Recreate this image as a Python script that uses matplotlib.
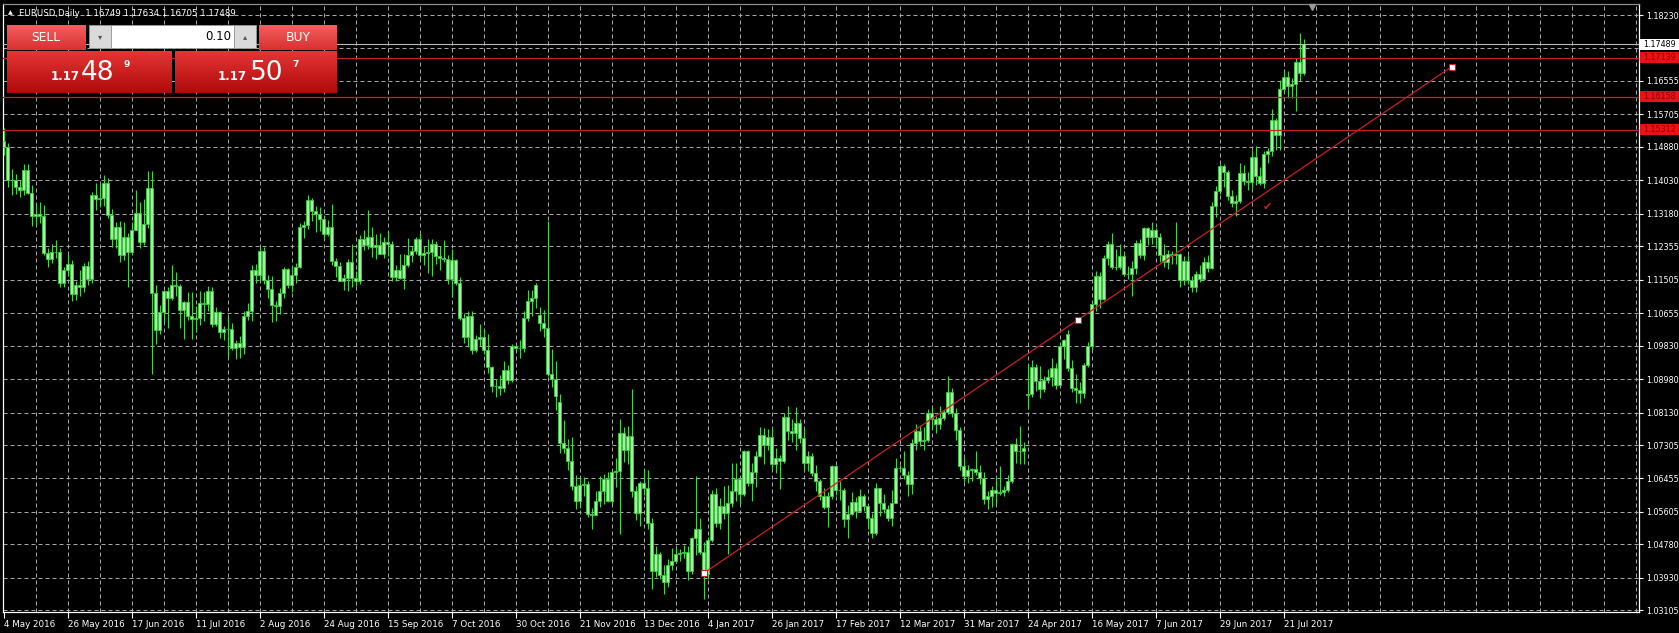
import numpy as np
import matplotlib
matplotlib.use('Agg')
import matplotlib.pyplot as plt
import matplotlib.colors as mcolors
import matplotlib.transforms as mtransforms
from matplotlib.patches import Rectangle

# EURUSD daily bars, 4 May 2016 .. 28 Jul 2017 (one entry per bar)
opens = [
    1.1502, 1.1488, 1.1404, 1.1403, 1.1385, 1.1378, 1.1428, 1.1372, 1.1312, 1.1317,
    1.1313, 1.1219, 1.1202, 1.1221, 1.1222, 1.1141, 1.1175, 1.1191, 1.1114, 1.1137,
    1.1131, 1.1185, 1.1152, 1.1366, 1.1355, 1.1357, 1.1395, 1.1314, 1.1253, 1.1285,
    1.1214, 1.1259, 1.1222, 1.1277, 1.1319, 1.1245, 1.1293, 1.1383, 1.1116, 1.1023,
    1.1068, 1.1122, 1.1103, 1.1136, 1.1134, 1.1073, 1.1093, 1.1058, 1.1051, 1.1054,
    1.1092, 1.1090, 1.1121, 1.1039, 1.1069, 1.1017, 1.1026, 1.1025, 1.0977, 1.0990,
    1.0980, 1.1058, 1.1072, 1.1175, 1.1163, 1.1223, 1.1150, 1.1128, 1.1085, 1.1083,
    1.1116, 1.1177, 1.1137, 1.1163, 1.1182, 1.1284, 1.1290, 1.1354, 1.1324, 1.1318,
    1.1305, 1.1267, 1.1285, 1.1198, 1.1186, 1.1148, 1.1155, 1.1196, 1.1156, 1.1147,
    1.1255, 1.1239, 1.1260, 1.1233, 1.1239, 1.1217, 1.1245, 1.1241, 1.1157, 1.1174,
    1.1154, 1.1188, 1.1213, 1.1224, 1.1253, 1.1214, 1.1219, 1.1222, 1.1240, 1.1211,
    1.1205, 1.1202, 1.1152, 1.1200, 1.1142, 1.1054, 1.1004, 1.1058, 1.0971, 1.1000,
    1.1004, 1.0973, 1.0928, 1.0881, 1.0880, 1.0875, 1.0921, 1.0896, 1.0983, 1.0978,
    1.0977, 1.1054, 1.1096, 1.1105, 1.1060, 1.1040, 1.1028, 1.0912, 1.0897, 1.0840,
    1.0735, 1.0723, 1.0690, 1.0626, 1.0589, 1.0628, 1.0631, 1.0556, 1.0553, 1.0588,
    1.0613, 1.0645, 1.0588, 1.0663, 1.0665, 1.0762, 1.0717, 1.0754, 1.0614, 1.0558,
    1.0635, 1.0620, 1.0532, 1.0410, 1.0453, 1.0401, 1.0383, 1.0425, 1.0437, 1.0454,
    1.0456, 1.0458, 1.0411, 1.0493, 1.0517, 1.0458, 1.0404, 1.0488, 1.0605, 1.0532,
    1.0575, 1.0557, 1.0583, 1.0613, 1.0643, 1.0606, 1.0714, 1.0633, 1.0661, 1.0702,
    1.0757, 1.0731, 1.0750, 1.0681, 1.0698, 1.0691, 1.0801, 1.0765, 1.0761, 1.0787,
    1.0749, 1.0685, 1.0703, 1.0659, 1.0640, 1.0601, 1.0574, 1.0602, 1.0676, 1.0616,
    1.0616, 1.0542, 1.0556, 1.0586, 1.0563, 1.0601, 1.0575, 1.0545, 1.0506, 1.0620,
    1.0584, 1.0567, 1.0544, 1.0582, 1.0671, 1.0672, 1.0654, 1.0631, 1.0735, 1.0765,
    1.0740, 1.0742, 1.0811, 1.0796, 1.0784, 1.0799, 1.0814, 1.0866, 1.0813, 1.0768,
    1.0676, 1.0652, 1.0667, 1.0670, 1.0663, 1.0646, 1.0593, 1.0600, 1.0615, 1.0609,
    1.0612, 1.0615, 1.0640, 1.0732, 1.0715, 1.0716, 1.0858, 1.0860, 1.0929, 1.0892,
    1.0872, 1.0895, 1.0903, 1.0927, 1.0883, 1.0981, 1.1012, 1.0927, 1.0875, 1.0870,
    1.0862, 1.0933, 1.0981, 1.1090, 1.1160, 1.1101, 1.1206, 1.1240, 1.1184, 1.1183,
    1.1211, 1.1164, 1.1165, 1.1180, 1.1244, 1.1213, 1.1282, 1.1259, 1.1276, 1.1259,
    1.1213, 1.1196, 1.1215, 1.1212, 1.1215, 1.1150, 1.1198, 1.1149, 1.1131, 1.1166,
    1.1151, 1.1196, 1.1181, 1.1337, 1.1375, 1.1440, 1.1425, 1.1362, 1.1346, 1.1350,
    1.1422, 1.1401, 1.1399, 1.1463, 1.1413, 1.1397, 1.1470, 1.1477, 1.1556, 1.1517,
    1.1635, 1.1665, 1.1643, 1.1647, 1.1704, 1.1675,
]
highs = [
    1.1537, 1.1498, 1.1432, 1.1418, 1.1404, 1.1445, 1.1445, 1.1392, 1.1345, 1.1349,
    1.1341, 1.1231, 1.1240, 1.1252, 1.1230, 1.1183, 1.1216, 1.1201, 1.1146, 1.1174,
    1.1194, 1.1198, 1.1374, 1.1395, 1.1394, 1.1416, 1.1408, 1.1330, 1.1298, 1.1299,
    1.1298, 1.1268, 1.1298, 1.1379, 1.1347, 1.1356, 1.1427, 1.1427, 1.1136, 1.1087,
    1.1124, 1.1131, 1.1187, 1.1169, 1.1139, 1.1097, 1.1119, 1.1120, 1.1083, 1.1121,
    1.1120, 1.1135, 1.1132, 1.1082, 1.1072, 1.1034, 1.1059, 1.1040, 1.0998, 1.1008,
    1.1070, 1.1091, 1.1187, 1.1190, 1.1233, 1.1234, 1.1162, 1.1161, 1.1096, 1.1130,
    1.1184, 1.1180, 1.1185, 1.1192, 1.1294, 1.1300, 1.1366, 1.1358, 1.1338, 1.1335,
    1.1315, 1.1301, 1.1342, 1.1205, 1.1196, 1.1166, 1.1204, 1.1240, 1.1172, 1.1265,
    1.1277, 1.1327, 1.1285, 1.1267, 1.1270, 1.1259, 1.1274, 1.1249, 1.1188, 1.1215,
    1.1217, 1.1257, 1.1236, 1.1259, 1.1268, 1.1236, 1.1255, 1.1255, 1.1249, 1.1236,
    1.1251, 1.1212, 1.1228, 1.1202, 1.1158, 1.1066, 1.1070, 1.1071, 1.1009, 1.1039,
    1.1024, 1.1013, 1.0931, 1.0899, 1.0909, 1.0945, 1.0935, 1.0987, 1.0987, 1.0997,
    1.1070, 1.1124, 1.1124, 1.1143, 1.1080, 1.1073, 1.1300, 1.0974, 1.0944, 1.0860,
    1.0794, 1.0745, 1.0752, 1.0655, 1.0646, 1.0650, 1.0640, 1.0570, 1.0614, 1.0651,
    1.0658, 1.0662, 1.0670, 1.0697, 1.0796, 1.0775, 1.0780, 1.0874, 1.0626, 1.0640,
    1.0670, 1.0668, 1.0545, 1.0473, 1.0458, 1.0425, 1.0442, 1.0468, 1.0468, 1.0465,
    1.0476, 1.0475, 1.0498, 1.0653, 1.0546, 1.0485, 1.0497, 1.0615, 1.0622, 1.0596,
    1.0626, 1.0628, 1.0685, 1.0685, 1.0645, 1.0719, 1.0719, 1.0686, 1.0714, 1.0775,
    1.0773, 1.0772, 1.0777, 1.0724, 1.0706, 1.0811, 1.0829, 1.0797, 1.0827, 1.0797,
    1.0774, 1.0716, 1.0711, 1.0680, 1.0644, 1.0620, 1.0610, 1.0679, 1.0680, 1.0639,
    1.0620, 1.0579, 1.0610, 1.0598, 1.0619, 1.0607, 1.0578, 1.0559, 1.0634, 1.0622,
    1.0605, 1.0579, 1.0616, 1.0698, 1.0680, 1.0714, 1.0665, 1.0745, 1.0783, 1.0782,
    1.0775, 1.0823, 1.0826, 1.0805, 1.0829, 1.0820, 1.0906, 1.0875, 1.0825, 1.0776,
    1.0699, 1.0680, 1.0672, 1.0715, 1.0680, 1.0661, 1.0613, 1.0627, 1.0651, 1.0677,
    1.0627, 1.0654, 1.0736, 1.0749, 1.0778, 1.0738, 1.0937, 1.0947, 1.0936, 1.0932,
    1.0906, 1.0923, 1.0951, 1.0940, 1.0987, 1.1000, 1.1023, 1.0946, 1.0911, 1.0890,
    1.0939, 1.0991, 1.1095, 1.1172, 1.1169, 1.1213, 1.1249, 1.1268, 1.1228, 1.1240,
    1.1218, 1.1185, 1.1199, 1.1251, 1.1255, 1.1285, 1.1285, 1.1296, 1.1282, 1.1268,
    1.1240, 1.1226, 1.1223, 1.1296, 1.1218, 1.1210, 1.1212, 1.1161, 1.1173, 1.1188,
    1.1208, 1.1213, 1.1348, 1.1389, 1.1445, 1.1445, 1.1428, 1.1378, 1.1365, 1.1446,
    1.1443, 1.1424, 1.1480, 1.1490, 1.1437, 1.1478, 1.1484, 1.1583, 1.1561, 1.1658,
    1.1683, 1.1680, 1.1662, 1.1713, 1.1777, 1.1763,
]
lows = [
    1.1468, 1.1387, 1.1365, 1.1367, 1.1361, 1.1365, 1.1369, 1.1287, 1.1289, 1.1295,
    1.1213, 1.1182, 1.1194, 1.1205, 1.1131, 1.1132, 1.1160, 1.1096, 1.1099, 1.1110,
    1.1118, 1.1136, 1.1142, 1.1328, 1.1336, 1.1339, 1.1306, 1.1233, 1.1232, 1.1196,
    1.1200, 1.1131, 1.1216, 1.1276, 1.1232, 1.1238, 1.1282, 1.0912, 1.0988, 1.1012,
    1.1043, 1.1028, 1.1100, 1.1110, 1.1029, 1.1001, 1.1048, 1.0999, 1.1017, 1.1035,
    1.1045, 1.1071, 1.1030, 1.1032, 1.1003, 1.0998, 1.0953, 1.0971, 1.0950, 1.0951,
    1.0962, 1.1048, 1.1046, 1.1141, 1.1147, 1.1139, 1.1105, 1.1043, 1.1046, 1.1063,
    1.1105, 1.1130, 1.1120, 1.1142, 1.1179, 1.1257, 1.1279, 1.1300, 1.1271, 1.1275,
    1.1253, 1.1261, 1.1187, 1.1157, 1.1146, 1.1124, 1.1123, 1.1133, 1.1134, 1.1140,
    1.1227, 1.1228, 1.1208, 1.1203, 1.1216, 1.1205, 1.1210, 1.1148, 1.1148, 1.1153,
    1.1128, 1.1183, 1.1195, 1.1215, 1.1202, 1.1189, 1.1168, 1.1161, 1.1190, 1.1176,
    1.1195, 1.1140, 1.1106, 1.1136, 1.1048, 1.0990, 1.0980, 1.0961, 1.0967, 1.0983,
    1.0962, 1.0914, 1.0865, 1.0852, 1.0858, 1.0865, 1.0885, 1.0891, 1.0970, 1.0951,
    1.0968, 1.1046, 1.1058, 1.1079, 1.1021, 1.1004, 1.0906, 1.0879, 1.0819, 1.0711,
    1.0711, 1.0666, 1.0616, 1.0569, 1.0570, 1.0600, 1.0547, 1.0518, 1.0552, 1.0574,
    1.0581, 1.0585, 1.0580, 1.0623, 1.0505, 1.0688, 1.0682, 1.0598, 1.0541, 1.0525,
    1.0604, 1.0517, 1.0365, 1.0394, 1.0390, 1.0352, 1.0370, 1.0412, 1.0430, 1.0436,
    1.0444, 1.0388, 1.0404, 1.0452, 1.0454, 1.0340, 1.0389, 1.0484, 1.0522, 1.0516,
    1.0543, 1.0453, 1.0572, 1.0588, 1.0581, 1.0601, 1.0626, 1.0589, 1.0625, 1.0700,
    1.0681, 1.0718, 1.0670, 1.0660, 1.0619, 1.0684, 1.0744, 1.0739, 1.0717, 1.0736,
    1.0668, 1.0664, 1.0652, 1.0613, 1.0591, 1.0569, 1.0521, 1.0593, 1.0603, 1.0591,
    1.0522, 1.0494, 1.0553, 1.0545, 1.0560, 1.0563, 1.0516, 1.0495, 1.0503, 1.0550,
    1.0557, 1.0537, 1.0525, 1.0582, 1.0665, 1.0645, 1.0601, 1.0607, 1.0719, 1.0727,
    1.0718, 1.0738, 1.0771, 1.0760, 1.0772, 1.0795, 1.0808, 1.0802, 1.0742, 1.0667,
    1.0636, 1.0634, 1.0638, 1.0655, 1.0631, 1.0581, 1.0569, 1.0572, 1.0581, 1.0604,
    1.0600, 1.0610, 1.0635, 1.0685, 1.0681, 1.0683, 1.0822, 1.0853, 1.0868, 1.0851,
    1.0864, 1.0889, 1.0880, 1.0873, 1.0883, 1.0950, 1.0919, 1.0864, 1.0838, 1.0838,
    1.0851, 1.0929, 1.0971, 1.1072, 1.1078, 1.1099, 1.1188, 1.1177, 1.1174, 1.1177,
    1.1161, 1.1153, 1.1110, 1.1166, 1.1206, 1.1201, 1.1239, 1.1241, 1.1232, 1.1196,
    1.1182, 1.1177, 1.1191, 1.1190, 1.1131, 1.1138, 1.1140, 1.1118, 1.1120, 1.1145,
    1.1149, 1.1171, 1.1178, 1.1311, 1.1369, 1.1385, 1.1352, 1.1334, 1.1312, 1.1346,
    1.1392, 1.1379, 1.1383, 1.1392, 1.1391, 1.1384, 1.1448, 1.1466, 1.1479, 1.1479,
    1.1627, 1.1612, 1.1612, 1.1580, 1.1655, 1.1671,
]
closes = [
    1.1488, 1.1404, 1.1403, 1.1385, 1.1378, 1.1428, 1.1372, 1.1312, 1.1317, 1.1313,
    1.1219, 1.1202, 1.1221, 1.1222, 1.1141, 1.1175, 1.1191, 1.1114, 1.1137, 1.1131,
    1.1185, 1.1152, 1.1366, 1.1355, 1.1357, 1.1395, 1.1314, 1.1253, 1.1285, 1.1214,
    1.1259, 1.1222, 1.1277, 1.1319, 1.1245, 1.1293, 1.1383, 1.1116, 1.1023, 1.1068,
    1.1122, 1.1103, 1.1136, 1.1134, 1.1073, 1.1093, 1.1058, 1.1051, 1.1054, 1.1092,
    1.1090, 1.1121, 1.1039, 1.1069, 1.1017, 1.1026, 1.1025, 1.0977, 1.0990, 1.0980,
    1.1058, 1.1072, 1.1175, 1.1163, 1.1223, 1.1150, 1.1128, 1.1085, 1.1083, 1.1116,
    1.1177, 1.1137, 1.1163, 1.1182, 1.1284, 1.1290, 1.1354, 1.1324, 1.1318, 1.1305,
    1.1267, 1.1285, 1.1198, 1.1186, 1.1148, 1.1155, 1.1196, 1.1156, 1.1147, 1.1255,
    1.1239, 1.1260, 1.1233, 1.1239, 1.1217, 1.1245, 1.1241, 1.1157, 1.1174, 1.1154,
    1.1188, 1.1213, 1.1224, 1.1253, 1.1214, 1.1219, 1.1222, 1.1240, 1.1211, 1.1205,
    1.1202, 1.1152, 1.1200, 1.1142, 1.1054, 1.1004, 1.1058, 1.0971, 1.1000, 1.1004,
    1.0973, 1.0928, 1.0881, 1.0880, 1.0875, 1.0921, 1.0896, 1.0983, 1.0978, 1.0977,
    1.1054, 1.1096, 1.1105, 1.1137, 1.1040, 1.1028, 1.0912, 1.0897, 1.0855, 1.0735,
    1.0723, 1.0690, 1.0626, 1.0589, 1.0628, 1.0631, 1.0556, 1.0553, 1.0588, 1.0613,
    1.0645, 1.0588, 1.0663, 1.0665, 1.0762, 1.0717, 1.0754, 1.0614, 1.0558, 1.0635,
    1.0620, 1.0532, 1.0410, 1.0453, 1.0401, 1.0383, 1.0425, 1.0437, 1.0454, 1.0456,
    1.0458, 1.0411, 1.0493, 1.0517, 1.0458, 1.0404, 1.0488, 1.0605, 1.0532, 1.0575,
    1.0557, 1.0583, 1.0613, 1.0643, 1.0606, 1.0714, 1.0633, 1.0661, 1.0702, 1.0757,
    1.0731, 1.0750, 1.0681, 1.0698, 1.0691, 1.0801, 1.0765, 1.0761, 1.0787, 1.0749,
    1.0685, 1.0703, 1.0659, 1.0640, 1.0601, 1.0574, 1.0602, 1.0676, 1.0616, 1.0616,
    1.0542, 1.0556, 1.0586, 1.0563, 1.0601, 1.0575, 1.0545, 1.0506, 1.0620, 1.0584,
    1.0567, 1.0544, 1.0582, 1.0671, 1.0672, 1.0654, 1.0631, 1.0735, 1.0765, 1.0740,
    1.0742, 1.0811, 1.0796, 1.0784, 1.0799, 1.0814, 1.0866, 1.0813, 1.0768, 1.0676,
    1.0652, 1.0667, 1.0670, 1.0663, 1.0646, 1.0593, 1.0600, 1.0615, 1.0609, 1.0612,
    1.0615, 1.0640, 1.0732, 1.0715, 1.0716, 1.0724, 1.0860, 1.0929, 1.0892, 1.0872,
    1.0895, 1.0903, 1.0927, 1.0883, 1.0981, 1.0998, 1.0927, 1.0875, 1.0870, 1.0862,
    1.0933, 1.0981, 1.1090, 1.1160, 1.1101, 1.1206, 1.1240, 1.1184, 1.1183, 1.1211,
    1.1164, 1.1165, 1.1180, 1.1244, 1.1213, 1.1282, 1.1259, 1.1276, 1.1259, 1.1213,
    1.1196, 1.1215, 1.1212, 1.1215, 1.1150, 1.1198, 1.1149, 1.1131, 1.1166, 1.1151,
    1.1196, 1.1181, 1.1337, 1.1375, 1.1440, 1.1425, 1.1362, 1.1346, 1.1350, 1.1422,
    1.1401, 1.1399, 1.1463, 1.1413, 1.1397, 1.1470, 1.1477, 1.1556, 1.1517, 1.1635,
    1.1665, 1.1643, 1.1647, 1.1704, 1.1676, 1.1749,
]

# time scale labels, one every 16 bars
date_labels = ['4 May 2016', '26 May 2016', '17 Jun 2016', '11 Jul 2016', '2 Aug 2016',
               '24 Aug 2016', '15 Sep 2016', '7 Oct 2016', '30 Oct 2016', '21 Nov 2016',
               '13 Dec 2016', '4 Jan 2017', '26 Jan 2017', '17 Feb 2017', '12 Mar 2017',
               '31 Mar 2017', '24 Apr 2017', '16 May 2017', '7 Jun 2017', '29 Jun 2017',
               '21 Jul 2017']

# price scale: grid levels and the ones that carry a label
grid_levels = [1.18230, 1.17380, 1.16555, 1.15705, 1.14880, 1.14030, 1.13180, 1.12355,
               1.11505, 1.10655, 1.09830, 1.08980, 1.08130, 1.07305, 1.06455, 1.05605,
               1.04780, 1.03930, 1.03105]
price_ticks = [1.18230, 1.16555, 1.15705, 1.14880, 1.14030, 1.13180, 1.12355,
               1.11505, 1.10655, 1.09830, 1.08980, 1.08130, 1.07305, 1.06455, 1.05605,
               1.04780, 1.03930, 1.03105]

# objects on the chart
red_levels = [1.17139, 1.16158, 1.15312]
bid_price = 1.17489
trend_bars = [175.2, 362.1]
trend_prices = [1.0406, 1.1692]
check_bar, check_price = 315.9, 1.1335

title = 'EURUSD,Daily  1.16749 1.17634 1.16705 1.17489'
sell_quote = ['1.17', '48', '9']
buy_quote = ['1.17', '50', '7']
lot_size = '0.10'

W, H = 1679, 633
left_px, right_px, top_px, bottom_px = 3, 1639, 4.3, 612
bar_px, first_bar_px = 4.0, 3.5
y_top, y_bottom = 1.18502, 1.03062

o = np.array(opens)
h = np.array(highs)
l = np.array(lows)
c = np.array(closes)
idx = np.arange(len(c))

fig = plt.figure(figsize=(W / 100, H / 100), dpi=100, facecolor='black')
ax = fig.add_axes([left_px / W, 1 - bottom_px / H,
                   (right_px - left_px) / W, (bottom_px - top_px) / H])
ax.set_facecolor('black')
x_min = (left_px - first_bar_px) / bar_px
x_max = (right_px - first_bar_px) / bar_px

# dashed grid
grid_style = dict(color='#a6a6a6', lw=0.72, ls=(0, (4, 3)), zorder=1)
for p in grid_levels:
    ax.axhline(p, **grid_style)
for k in range(8, int(x_max) + 1, 8):
    ax.axvline(k, **grid_style)

# candles
ax.vlines(idx, np.minimum(l, np.minimum(o, c)), np.maximum(h, np.maximum(o, c)),
          color='#3fd63f', lw=0.8, zorder=3)
ax.bar(idx, np.maximum(np.abs(c - o), 0.00008), bottom=np.minimum(o, c), width=0.72,
       color='#a6efa6', edgecolor='#35d035', linewidth=0.6, zorder=4)

# horizontal lines, bid line, trend line
for p in red_levels:
    ax.axhline(p, color='#cc1f1f', lw=0.9, zorder=5)
ax.axhline(bid_price, color='#b8b8b8', lw=0.8, zorder=5)
ax.plot(trend_bars, trend_prices, color='#cc1f1f', lw=0.9, zorder=6)
ax.plot([trend_bars[0], np.mean(trend_bars), trend_bars[1]],
        [trend_prices[0], np.mean(trend_prices), trend_prices[1]],
        ls='none', marker='s', ms=4, mfc='white', mec='#cc1f1f', mew=0.8, zorder=7)
ax.text(check_bar, check_price, '\u2714', color='#d42020', fontsize=8,
        ha='center', va='center', zorder=7)

ax.set_xlim(x_min, x_max)
ax.set_ylim(y_bottom, y_top)

# axes look
for side in ['left', 'right', 'bottom']:
    ax.spines[side].set_color('white')
    ax.spines[side].set_linewidth(0.9)
ax.spines['top'].set_color('#8c8c8c')
ax.spines['top'].set_linewidth(0.9)

ax.yaxis.tick_right()
ax.set_yticks(price_ticks)
ax.set_yticklabels(['%.5f' % p for p in price_ticks])
ax.tick_params(axis='y', colors='white', length=3, width=0.8, pad=2.0, labelsize=5.8)
ax.set_xticks(np.arange(len(date_labels)) * 16)
ax.set_xticklabels(date_labels, ha='left')
ax.tick_params(axis='x', colors='white', length=4, width=0.8, pad=1.5, labelsize=6.3)

# price boxes on the right scale
blend = mtransforms.blended_transform_factory(fig.transFigure, ax.transData)
hh = 5.5 * (y_top - y_bottom) / (bottom_px - top_px)
boxes = [(bid_price, 'white', 'black')] + [(p, '#ea1212', '#8e0000') for p in red_levels]
for p, face, col in boxes:
    ax.add_patch(Rectangle((1640 / W, p - hh), (W - 1640) / W, 2 * hh, transform=blend,
                           facecolor=face, edgecolor='none', clip_on=False, zorder=8))
    ax.text(1643.5 / W, p, '%.5f' % p, transform=blend, color=col, fontsize=5.8,
            ha='left', va='center', clip_on=False, zorder=9)

# overlay in pixel coordinates for the title and trade panel
ov = fig.add_axes([0, 0, 1, 1])
ov.axis('off')


def gradient_box(x0, y0, x1, y1, top, bottom):
    t = np.linspace(0, 1, 40)[:, None, None]
    img = np.array(mcolors.to_rgb(top)) * (1 - t) + np.array(mcolors.to_rgb(bottom)) * t
    ov.imshow(img, extent=(x0, x1, y1, y0), aspect='auto', interpolation='bilinear', zorder=1)


ov.text(8, 13, '\u25b2', color='white', fontsize=4.5, va='center')
ov.text(19, 13, title, color='white', fontsize=6.2, va='center')

gradient_box(7, 25, 86, 50, '#f46060', '#d93030')
gradient_box(259, 25, 337, 50, '#f46060', '#d93030')
gradient_box(7, 51, 172, 93, '#e53535', '#b00a0a')
gradient_box(175, 51, 337, 93, '#e53535', '#b00a0a')
ov.add_patch(Rectangle((89, 25), 22, 23, facecolor='#dadada', edgecolor='#9a9a9a', lw=0.6, zorder=2))
ov.add_patch(Rectangle((111, 25), 123, 23, facecolor='white', edgecolor='#9a9a9a', lw=0.6, zorder=2))
ov.add_patch(Rectangle((234, 25), 22, 23, facecolor='#dadada', edgecolor='#9a9a9a', lw=0.6, zorder=2))
ov.text(100, 36.5, '\u25be', color='#555555', fontsize=6, ha='center', va='center', zorder=3)
ov.text(245, 36.5, '\u25b4', color='#555555', fontsize=6, ha='center', va='center', zorder=3)
ov.text(231, 36.5, lot_size, color='black', fontsize=8.5, ha='right', va='center', zorder=3)
ov.text(46, 37.5, 'SELL', color='white', fontsize=8.8, ha='center', va='center', zorder=3)
ov.text(298, 37.5, 'BUY', color='white', fontsize=8.8, ha='center', va='center', zorder=3)

for quote, xs in [(sell_quote, (51, 81, 124)), (buy_quote, (218, 250, 292))]:
    ov.text(xs[0], 80, quote[0], color='white', fontsize=8.5, fontweight='bold',
            va='baseline', zorder=3)
    ov.text(xs[1], 80.5, quote[1], color='white', fontsize=19, va='baseline', zorder=3)
    ov.text(xs[2], 67, quote[2], color='white', fontsize=6.5, fontweight='bold',
            va='baseline', zorder=3)

# chart shift marker
ov.plot([1312], [7], marker='v', ms=5, color='#9a9a9a', ls='none')

ov.set_xlim(0, W)
ov.set_ylim(H, 0)

fig.savefig('out.png', dpi=100, facecolor='black')
